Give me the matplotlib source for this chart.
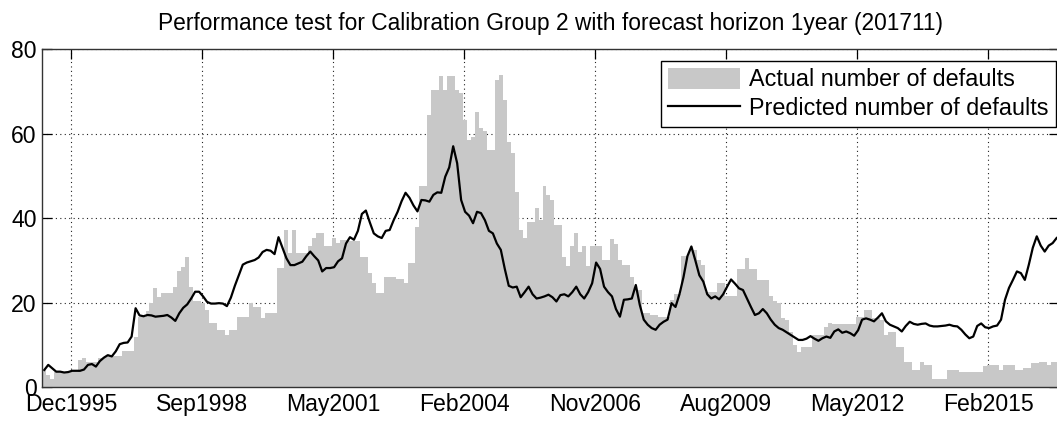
import numpy as np
import matplotlib
matplotlib.use("Agg")
import matplotlib.pyplot as plt
from matplotlib.patches import Patch
from matplotlib.lines import Line2D

plt.rcParams['font.family'] = ['Liberation Sans', 'DejaVu Sans']

title = "Performance test for Calibration Group 2 with forecast horizon 1year (201711)"
tick_labels = ["Dec1995", "Sep1998", "May2001", "Feb2004", "Nov2006", "Aug2009", "May2012", "Feb2015"]
y_ticks = [0, 20, 40, 60, 80]

# monthly values, starting May 1995
actual = [
    4, 3, 2, 3.5, 3.5, 3.5, 3.5, 3.5, 3.5, 6.5, 7, 6,
    6, 6, 7, 7, 7.5, 7.5, 7.5, 7.5, 8.5, 8.5, 8.5, 12,
    16.7, 16.7, 18, 19.9, 23.4, 21.4, 22.2, 22.2, 22.2, 23.8, 27.4, 28.5,
    30.9, 23.8, 20.3, 20.3, 19.9, 18.3, 15.1, 15.1, 13.6, 13.6, 12.4, 13.6,
    13.6, 16.7, 16.7, 16.7, 19.9, 19.1, 19.1, 16.3, 17.5, 17.5, 17.5, 28.2,
    28.2, 37.2, 31.7, 37.2, 31.7, 31.7, 31.7, 33.3, 35.3, 36.4, 36.4, 33.3,
    33.3, 35.3, 34.1, 34.9, 34.9, 34.5, 34.5, 34.5, 30.9, 30.9, 27, 24.6,
    22.2, 22.2, 26.2, 26.2, 26.2, 25.5, 25.5, 24.6, 29.3, 29.3, 38, 47.5,
    47.5, 64.4, 70.4, 70.4, 73.5, 70.4, 73.5, 73.5, 70.4, 69.6, 63.3, 58.5,
    59.3, 65.2, 61.3, 60.5, 56.2, 56.2, 72.7, 73.9, 68, 58.1, 55.4, 46.3,
    37.2, 35.2, 39.2, 39.2, 42.4, 39.6, 47.5, 45.5, 44.3, 38.4, 38.4, 30.9,
    28.6, 33.3, 36.4, 32.1, 33.3, 28.6, 33.3, 33.3, 33.3, 30, 30, 35,
    34, 30, 29, 29, 26, 23, 23, 17.5, 17.5, 17, 17, 16.7,
    16.7, 16.7, 20.7, 22, 22, 31, 31, 32.5, 32.5, 30, 29, 22.6,
    22.6, 22.6, 24.6, 24.6, 21.5, 21.5, 21.5, 28, 28, 30.5, 28, 28,
    25.4, 25.4, 25.4, 21.5, 20.3, 20, 16.3, 16, 13, 10, 8.4, 9.6,
    9.6, 9.6, 12.4, 12.4, 12.4, 14.2, 15.3, 15, 15, 15, 15, 15,
    15, 16.7, 16.7, 18.3, 18.3, 16.5, 16.5, 15.9, 12.4, 13, 13, 9.6,
    9.6, 6, 6, 4, 4, 6, 5.3, 5.3, 2, 2, 2, 2,
    4, 4, 4, 3.7, 3.7, 3.7, 3.7, 3.7, 3.7, 5, 5.3, 5.3,
    5.3, 4, 5.3, 5.3, 5.3, 4, 4, 4.5, 4.5, 5.7, 5.7, 6,
    6, 5.3, 6, 6,
]

predicted = [
    4.1, 5.3, 4.5, 3.7, 3.7, 3.5, 3.6, 3.9, 3.9, 3.9, 4.2, 5.3,
    5.5, 4.9, 6.2, 7.0, 7.6, 7.3, 8.5, 10.2, 10.5, 10.6, 12, 18.7,
    17, 16.8, 17.1, 17, 16.7, 16.8, 16.9, 17.1, 16.5, 15.7, 17.5, 18.8,
    19.6, 21, 22.6, 22.6, 21.5, 20.2, 19.8, 19.8, 19.9, 19.8, 19.2, 21.2,
    24, 26.5, 29, 29.5, 29.8, 30.1, 30.7, 32, 32.5, 32.3, 31.5, 35.5,
    33, 30.5, 28.9, 28.9, 29.3, 29.7, 31, 32.1, 31, 30, 27.4, 28.2,
    28.2, 28.4, 29.8, 30.5, 34, 35.5, 34.9, 37, 41, 41.8, 39, 36.4,
    35.7, 35.3, 37, 37.2, 39.5, 41.5, 44, 46, 44.8, 43, 41.6, 44.3,
    44.2, 43.9, 45.5, 46.1, 46, 49.8, 52, 57, 53, 44.3, 41.5, 40.6,
    38.8, 41.5, 41.2, 39.5, 37, 36.4, 34, 32.5, 28, 24, 23.6, 23.8,
    21.3, 22.5, 23.8, 22, 21, 21.2, 21.5, 21.9, 21.3, 20.3, 21.8, 22,
    21.5, 22.5, 23.8, 22, 21, 22.5, 24.6, 29.5, 28, 23.8, 22.5, 21.5,
    18.5, 16.7, 20.7, 20.8, 21, 24.2, 19.5, 16, 14.8, 14, 13.6, 14.8,
    15.5, 16, 19.9, 19, 22, 26, 31, 33.3, 30, 26.5, 25, 22,
    21, 21.5, 20.8, 22, 23.8, 25.5, 24.5, 23.4, 23, 21, 19, 17.1,
    17.5, 18.5, 17.5, 16, 14.8, 14, 13.6, 13, 12.4, 11.8, 11.2, 11.2,
    11.5, 12.1, 11.5, 11, 11.6, 12, 11.7, 13.2, 13.7, 12.9, 13.2, 12.8,
    12.2, 13.5, 16, 16.3, 16, 15.6, 16.5, 17.5, 15.6, 14.8, 14.4, 14,
    13.2, 14.5, 15.5, 15, 14.8, 15, 15.1, 14.6, 14.4, 14.4, 14.5, 14.6,
    14.8, 14.5, 14.4, 13.6, 12.5, 11.6, 12, 14.5, 15.1, 14.2, 14, 14.4,
    14.6, 16, 20.7, 23.5, 25.4, 27.4, 27, 25.4, 29, 33, 35.7, 33.5,
    32.1, 33.5, 34.1, 35.3,
]

n = len(actual)
edges = np.arange(n + 1)
centers = np.arange(n) + 0.5
first_tick = 7.23      # month offset of first tick label
tick_step = 33.0       # months between ticks
tick_pos = first_tick + tick_step * np.arange(len(tick_labels))

W, H = 1057, 421
fig = plt.figure(figsize=(W / 100, H / 100), dpi=100)
left, right, top, bottom = 42.3, 1058.6, 49.0, 387.3
ax = fig.add_axes([left / W, 1 - bottom / H, (right - left) / W, (bottom - top) / H])

grey = '#c8c8c8'
ax.stairs(actual, edges, fill=True, color=grey, linewidth=0, zorder=2)
ax.plot(centers, predicted, color='black', linewidth=1.6, zorder=3)

ax.set_xlim(0, n)
ax.set_ylim(0, 80)
ax.set_xticks(tick_pos)
ax.set_xticklabels(tick_labels)
ax.set_yticks(y_ticks)
ax.set_axisbelow(True)
ax.grid(True, linestyle=(0, (1, 3)), color='#222222', linewidth=0.8, zorder=0)
ax.tick_params(direction='in', length=7, width=0.9, top=True, right=True,
               labelsize=16.6, colors='black')
ax.tick_params(axis='x', pad=4)
ax.tick_params(axis='y', pad=4)
for s in ax.spines.values():
    s.set_linewidth(1.0)
    s.set_color('#333333')
    s.set_zorder(4)

ax.set_title(title, fontsize=16.4, pad=14)

handles = [Patch(facecolor=grey, edgecolor='none'),
           Line2D([0], [0], color='black', linewidth=1.6)]
leg = ax.legend(handles, ["Actual number of defaults", "Predicted number of defaults"],
                loc='upper right', bbox_to_anchor=(1056 / W, 1 - 61 / H),
                bbox_transform=fig.transFigure, borderaxespad=0,
                fontsize=16.8, fancybox=False, framealpha=1, edgecolor='black',
                handlelength=3.1, handleheight=1.0, handletextpad=0.4,
                borderpad=0.3, labelspacing=0.22)
leg.get_frame().set_linewidth(1.0)
leg.set_zorder(5)

fig.savefig('out.png', dpi=100)
